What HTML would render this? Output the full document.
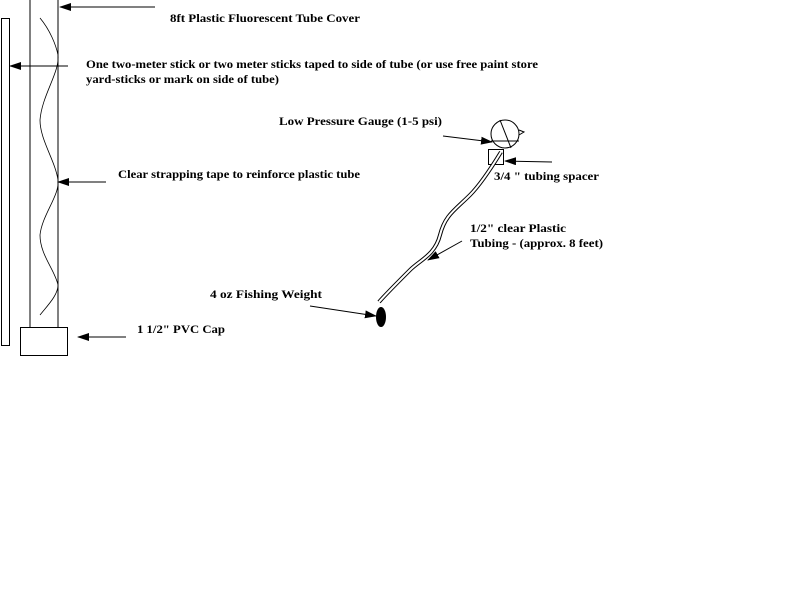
<!DOCTYPE html>
<html><head><style>body{margin:0;background:#fff}svg{display:block}text{font-family:"Liberation Serif",serif;font-weight:bold;font-size:12px;fill:#000}</style></head>
<body>
<svg width="800" height="600" viewBox="0 0 800 600" xmlns="http://www.w3.org/2000/svg">
<defs><marker id="a" markerWidth="12" markerHeight="8" refX="11" refY="4" orient="auto" markerUnits="userSpaceOnUse"><path d="M0,0 L12,4 L0,8 Z" fill="#000"/></marker></defs>
<g stroke="#000" fill="none" stroke-width="1">
<line x1="30" y1="0" x2="30" y2="327"/>
<line x1="58" y1="0" x2="58" y2="327"/>
<rect x="1.5" y="18.5" width="8" height="327"/>
<rect x="20.5" y="327.5" width="47" height="28"/>
<path d="M40,18 C50,30 56,45 58,55 C60,72 42,95 40,120 C40,140 55,160 58,180 C60,195 42,215 40,235 C40,255 55,270 58,285 C58,295 48,305 40,315" stroke-width="0.8"/>
<line x1="155" y1="7" x2="60" y2="7" marker-end="url(#a)"/>
<line x1="68" y1="66" x2="10" y2="66" marker-end="url(#a)"/>
<line x1="106" y1="182" x2="58" y2="182" marker-end="url(#a)"/>
<line x1="126" y1="337" x2="78" y2="337" marker-end="url(#a)"/>
<circle cx="505" cy="134" r="14"/>
<line x1="491" y1="141" x2="519" y2="141"/>
<line x1="500" y1="120" x2="511" y2="148"/>
<path d="M519,130 L524,132 L519,135"/>
<rect x="488.5" y="149.5" width="15" height="15"/>
<path d="M501,152 C490,170 480,185 470,195 C455,210 445,215 440,235 C435,255 420,260 410,270 C395,285 385,295 379,302" stroke-width="4"/>
<path d="M501,152 C490,170 480,185 470,195 C455,210 445,215 440,235 C435,255 420,260 410,270 C395,285 385,295 379,302" stroke="#fff" stroke-width="2"/>
<line x1="443" y1="136" x2="492" y2="142" marker-end="url(#a)"/>
<line x1="552" y1="162" x2="505" y2="161" marker-end="url(#a)"/>
<line x1="462" y1="241" x2="428" y2="260" marker-end="url(#a)"/>
<line x1="310" y1="306" x2="376" y2="316" marker-end="url(#a)"/>
</g>
<ellipse cx="381" cy="317" rx="5" ry="10" fill="#000"/>
<text x="170" y="22" textLength="190" lengthAdjust="spacingAndGlyphs">8ft Plastic Fluorescent Tube Cover</text>
<text x="86" y="68" textLength="452" lengthAdjust="spacingAndGlyphs">One two-meter stick or two meter sticks taped to side of tube (or use free paint store</text>
<text x="86" y="83" textLength="193" lengthAdjust="spacingAndGlyphs">yard-sticks or mark on side of tube)</text>
<text x="118" y="178" textLength="242" lengthAdjust="spacingAndGlyphs">Clear strapping tape to reinforce plastic tube</text>
<text x="279" y="125" textLength="163" lengthAdjust="spacingAndGlyphs">Low Pressure Gauge (1-5 psi)</text>
<text x="494" y="180" textLength="105" lengthAdjust="spacingAndGlyphs">3/4 " tubing spacer</text>
<text x="470" y="232" textLength="96" lengthAdjust="spacingAndGlyphs">1/2" clear Plastic</text>
<text x="470" y="247" textLength="133" lengthAdjust="spacingAndGlyphs">Tubing -  (approx. 8 feet)</text>
<text x="210" y="298" textLength="112" lengthAdjust="spacingAndGlyphs">4 oz Fishing Weight</text>
<text x="137" y="333" textLength="88" lengthAdjust="spacingAndGlyphs">1 1/2" PVC Cap</text>
</svg>
</body></html>
